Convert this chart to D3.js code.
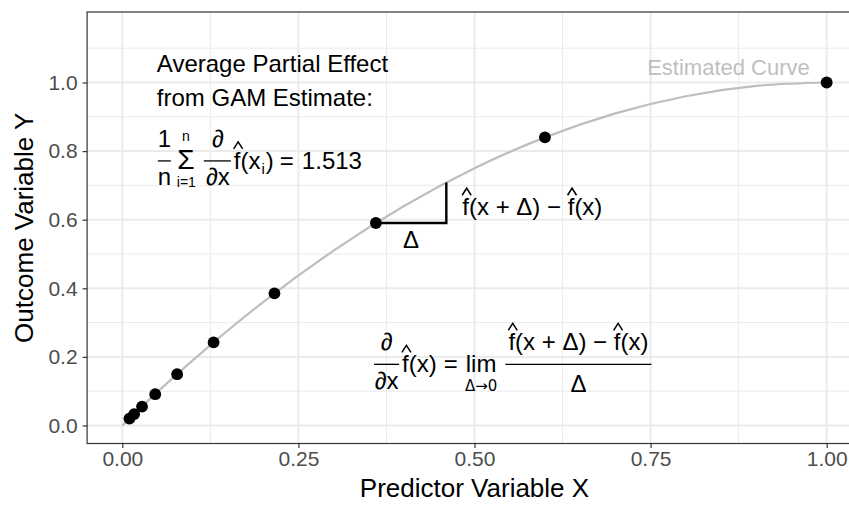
<!DOCTYPE html>
<html>
<head>
<meta charset="utf-8">
<script src="https://cdn.jsdelivr.net/npm/d3@7"></script>
<style>
  body { margin: 0; background: #fff; }
  svg { display: block; font-family: "Liberation Sans", Arial, Helvetica, sans-serif; }
  text { white-space: pre; }
</style>
</head>
<body>
<div id="vis"></div>
<script>
// observed points
const xValues = [0.0101, 0.0168, 0.0280, 0.0467, 0.0778, 0.1296, 0.2160, 0.3600, 0.6000, 1.0000];
const yValues = [0.0201, 0.0333, 0.0552, 0.0912, 0.1495, 0.2424, 0.3853, 0.5904, 0.8400, 1.0000];

// estimated (GAM) curve
const curveX = [0.00, 0.05, 0.10, 0.20, 0.30, 0.40, 0.50, 0.60, 0.70, 0.80, 0.90, 1.00];
const curveY = [0.00, 0.098, 0.19, 0.36, 0.51, 0.64, 0.75, 0.84, 0.91, 0.96, 0.99, 1.00];

// the Delta step drawn at x = 0.36
const stepX = [0.36, 0.46];
const stepY = [0.5904, 0.7084];

const xMajor = [0, 0.25, 0.5, 0.75, 1];
const xMinor = [0.125, 0.375, 0.625, 0.875];
const yMajor = [0, 0.2, 0.4, 0.6, 0.8, 1.0];
const yMinor = [0.1, 0.3, 0.5, 0.7, 0.9, 1.1];
const xTickLabels = ["0.00", "0.25", "0.50", "0.75", "1.00"];
const yTickLabels = ["0.0", "0.2", "0.4", "0.6", "0.8", "1.0"];

const width = 849, height = 506;
const panel = {left: 87.1, right: 861.9, top: 12, bottom: 443.5};

const svg = d3.select("#vis").append("svg")
    .attr("width", width)
    .attr("height", height);

const xScale = d3.scaleLinear().domain([-0.05, 1.05]).range([panel.left, panel.right]);
const yScale = d3.scaleLinear().domain([-0.0525, 1.2055]).range([panel.bottom, panel.top]);

// grid
const grid = svg.append("g");
grid.selectAll(".xminor").data(xMinor).join("line")
    .attr("x1", d => xScale(d)).attr("x2", d => xScale(d))
    .attr("y1", panel.top).attr("y2", panel.bottom)
    .attr("stroke", "#ebebeb").attr("stroke-width", 1);
grid.selectAll(".yminor").data(yMinor).join("line")
    .attr("y1", d => yScale(d)).attr("y2", d => yScale(d))
    .attr("x1", panel.left).attr("x2", panel.right)
    .attr("stroke", "#ebebeb").attr("stroke-width", 1);
grid.selectAll(".xmajor").data(xMajor).join("line")
    .attr("x1", d => xScale(d)).attr("x2", d => xScale(d))
    .attr("y1", panel.top).attr("y2", panel.bottom)
    .attr("stroke", "#ebebeb").attr("stroke-width", 2);
grid.selectAll(".ymajor").data(yMajor).join("line")
    .attr("y1", d => yScale(d)).attr("y2", d => yScale(d))
    .attr("x1", panel.left).attr("x2", panel.right)
    .attr("stroke", "#ebebeb").attr("stroke-width", 2);

// curve
const line = d3.line()
    .x((d, i) => xScale(curveX[i]))
    .y((d, i) => yScale(curveY[i]))
    .curve(d3.curveMonotoneX);
svg.append("path")
    .attr("d", line(curveX))
    .attr("fill", "none")
    .attr("stroke", "#bebebe")
    .attr("stroke-width", 2.2);

// Delta step
svg.append("path")
    .attr("d", `M${xScale(stepX[0])},${yScale(stepY[0])}H${xScale(stepX[1])}V${yScale(stepY[1])}`)
    .attr("fill", "none")
    .attr("stroke", "#000")
    .attr("stroke-width", 2.4);

// points
svg.selectAll(".pt").data(xValues).join("circle")
    .attr("cx", d => xScale(d))
    .attr("cy", (d, i) => yScale(yValues[i]))
    .attr("r", 5.9)
    .attr("fill", "#000");

// panel border
svg.append("rect")
    .attr("x", panel.left).attr("y", panel.top)
    .attr("width", panel.right - panel.left)
    .attr("height", panel.bottom - panel.top)
    .attr("fill", "none")
    .attr("stroke", "#333")
    .attr("stroke-width", 1.2);

// axes
const xAxis = svg.append("g")
    .attr("transform", `translate(0,${panel.bottom})`)
    .call(d3.axisBottom(xScale).tickValues(xMajor)
        .tickFormat((d, i) => xTickLabels[i]).tickSize(4.5).tickPadding(3));
const yAxis = svg.append("g")
    .attr("transform", `translate(${panel.left},0)`)
    .call(d3.axisLeft(yScale).tickValues(yMajor)
        .tickFormat((d, i) => yTickLabels[i]).tickSize(4.5).tickPadding(5));
[xAxis, yAxis].forEach(a => {
    a.select(".domain").remove();
    a.selectAll(".tick line").attr("stroke", "#333").attr("stroke-width", 1.2);
    a.selectAll(".tick text")
        .attr("fill", "#4d4d4d")
        .attr("font-size", 21)
        .attr("font-family", "Liberation Sans, Arial, sans-serif");
});

svg.append("text")
    .attr("x", (panel.left + panel.right) / 2)
    .attr("y", 497)
    .attr("text-anchor", "middle")
    .attr("font-size", 26)
    .text("Predictor Variable X");
svg.append("text")
    .attr("transform", `translate(33,${(panel.top + panel.bottom) / 2}) rotate(-90)`)
    .attr("text-anchor", "middle")
    .attr("font-size", 26)
    .text("Outcome Variable Y");

// ---- annotations ----
const ann = svg.append("g").attr("fill", "#000");

function hat(cx, yTop) {
    ann.append("path")
        .attr("d", `M${cx - 4.5},${yTop + 7}L${cx},${yTop}L${cx + 4.5},${yTop + 7}`)
        .attr("fill", "none").attr("stroke", "#000").attr("stroke-width", 1.5);
}

function txt(x, y, s, size, anchor, family) {
    const t = ann.append("text")
        .attr("x", x).attr("y", y)
        .attr("font-size", size || 24)
        .attr("text-anchor", anchor || "start")
        .text(s);
    if (family) t.attr("font-family", family);
    return t;
}

// lay out pieces left to right, returns end x
function row(x, y, items) {
    items.forEach(it => {
        const t = txt(x, y + (it.dy || 0), it.t, it.size || 24);
        const w = t.node().getComputedTextLength();
        if (it.hat) hat(x + w / 2 + 1, y - 27);
        x += w + (it.gap || 0);
    });
    return x;
}

function rowWidth(items) {
    const g = ann.append("g");
    let w = 0;
    items.forEach(it => {
        const t = g.append("text").attr("font-size", it.size || 24).text(it.t);
        w += t.node().getComputedTextLength() + (it.gap || 0);
    });
    g.remove();
    return w;
}

function bar(x1, x2, y) {
    ann.append("line")
        .attr("x1", x1).attr("x2", x2).attr("y1", y).attr("y2", y)
        .attr("stroke", "#000").attr("stroke-width", 1.3);
}

txt(xScale(0.049), yScale(1.03), "Average Partial Effect", 24);
txt(xScale(0.049), yScale(0.93), "from GAM Estimate:", 24);

ann.append("text")
    .attr("x", xScale(0.976)).attr("y", yScale(1.022))
    .attr("text-anchor", "end")
    .attr("font-size", 22)
    .attr("fill", "#bfbfbf")
    .text("Estimated Curve");

// 1/n sum d/dx f(x_i) = 1.513
{
    const x0 = xScale(0.049), b = yScale(0.748), ax = b - 8;
    bar(x0 + 1, x0 + 14, ax);
    txt(x0 + 7.5, b - 22, "1", 24, "middle");
    txt(x0 + 7.5, b + 16, "n", 24, "middle");
    txt(x0 + 29, b, "\u03A3", 28, "middle");
    txt(x0 + 29, b - 28, "n", 14, "middle");
    txt(x0 + 29.5, b + 18, "i=1", 14, "middle");
    bar(x0 + 47, x0 + 74, ax);
    txt(x0 + 61, b - 22, "\u2202", 24, "middle");
    txt(x0 + 61, b + 16, "\u2202x", 24, "middle");
    row(x0 + 77, b, [
        {t: "f", hat: true},
        {t: "(x", gap: 1},
        {t: "i", size: 15, dy: 5, gap: 1},
        {t: ")", gap: 6},
        {t: "=", gap: 8},
        {t: "1.513"}
    ]);
}

// f(x + D) - f(x) next to the step
const diffItems = [
    {t: "f", hat: true},
    {t: "(x + \u0394) \u2212 "},
    {t: "f", hat: true},
    {t: "(x)"}
];
row(xScale(stepX[1]) + 16, yScale(0.613), diffItems);
txt(xScale((stepX[0] + stepX[1]) / 2), yScale(stepY[0]) + 25, "\u0394", 24, "middle");

// d/dx f(x) = lim (f(x+D) - f(x)) / D
{
    const x0 = xScale(0.356), b = yScale(0.155), ax = b - 8;
    bar(x0 + 1, x0 + 26, ax);
    txt(x0 + 13.5, b - 22, "\u2202", 24, "middle");
    txt(x0 + 13.5, b + 17, "\u2202x", 24, "middle");
    let x = row(x0 + 29, b, [
        {t: "f", hat: true},
        {t: "(x)", gap: 7},
        {t: "=", gap: 8}
    ]);
    const limW = txt(x, b, "lim", 24).node().getComputedTextLength();
    txt(x + limW / 2, b + 19, "\u0394\u21920", 15, "middle", "DejaVu Sans");
    const fx0 = x + limW + 9;
    const w = rowWidth(diffItems);
    bar(fx0, fx0 + w + 6, ax);
    row(fx0 + 3, b - 22, diffItems);
    txt(fx0 + (w + 6) / 2, b + 20, "\u0394", 24, "middle");
}
</script>
</body>
</html>
